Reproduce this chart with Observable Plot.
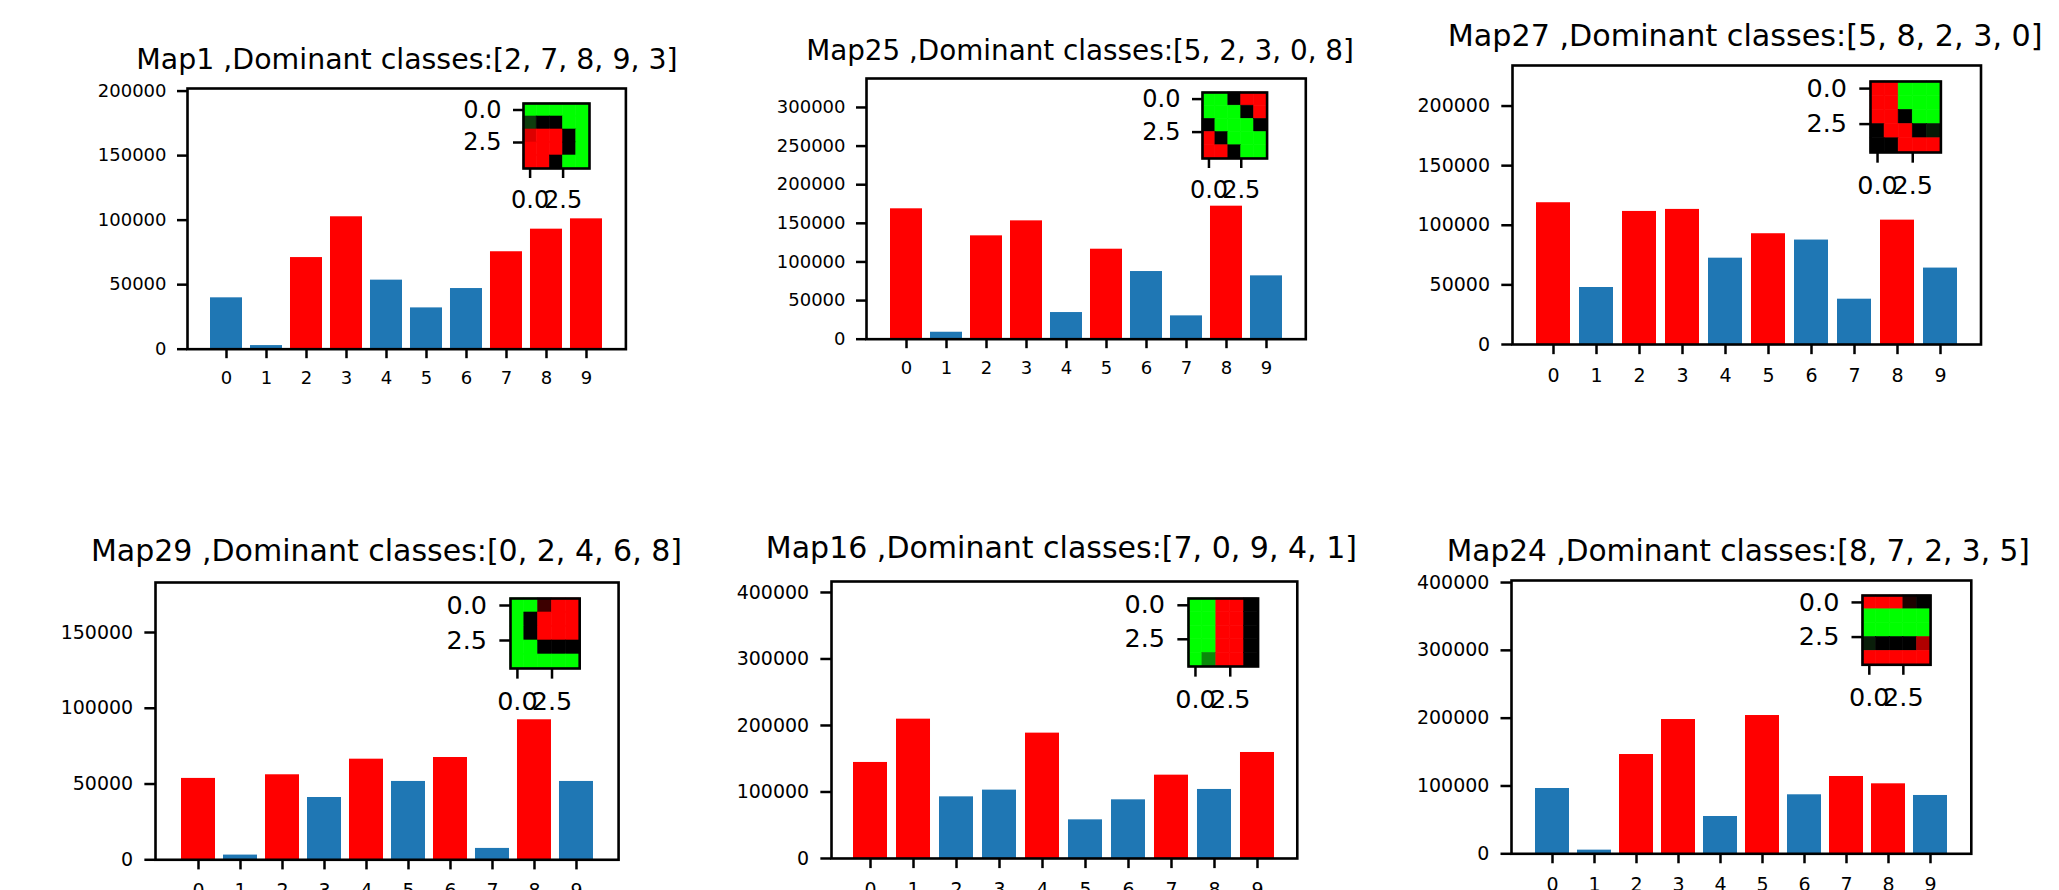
<!DOCTYPE html>
<html>
<head>
<meta charset="utf-8">
<script src="https://cdn.jsdelivr.net/npm/d3@7"></script>
<script src="https://cdn.jsdelivr.net/npm/@observablehq/plot@0.6"></script>
<style>
  html, body { margin: 0; padding: 0; background: white; }
  #root { position: relative; width: 2059px; height: 890px; overflow: hidden; background: white; font-family: "DejaVu Sans", sans-serif; }
  .ttl { position: absolute; white-space: nowrap; line-height: 1; color: #000; transform: translateX(-50%); font-family: "DejaVu Sans", sans-serif; }
  svg.plotbox { position: absolute; max-width: none !important; overflow: visible; }
</style>
</head>
<body>
<div id="root"></div>
<script>
// ---------------- DATA ----------------
const classes = [0, 1, 2, 3, 4, 5, 6, 7, 8, 9];
const mapNames = ["Map1", "Map25", "Map27", "Map29", "Map16", "Map24"];

const dom1  = [2, 7, 8, 9, 3];
const dom25 = [5, 2, 3, 0, 8];
const dom27 = [5, 8, 2, 3, 0];
const dom29 = [0, 2, 4, 6, 8];
const dom16 = [7, 0, 9, 4, 1];
const dom24 = [8, 7, 2, 3, 5];

const counts1  = [39800, 2800, 71000, 102600, 53500, 32000, 47000, 75500, 93000, 101000];
const counts25 = [168800, 9000, 133800, 153200, 34500, 116500, 87600, 30200, 172200, 82000];
const counts27 = [118900, 47800, 111600, 113300, 72400, 92900, 87600, 38000, 104300, 64100];
const counts29 = [53700, 3100, 56100, 41100, 66400, 51700, 67500, 7500, 92400, 51700];
const counts16 = [144400, 209500, 92700, 102800, 188500, 58100, 88200, 125300, 103800, 159400];
const counts24 = [96300, 5400, 146400, 198000, 55000, 203900, 87000, 114000, 103200, 86000];

const yMax = [202000, 337500, 234000, 183000, 416500, 403000];
const ticks1  = [0, 50000, 100000, 150000, 200000];
const ticks25 = [0, 50000, 100000, 150000, 200000, 250000, 300000];
const ticks27 = [0, 50000, 100000, 150000, 200000];
const ticks29 = [0, 50000, 100000, 150000];
const ticks16 = [0, 100000, 200000, 300000, 400000];
const ticks24 = [0, 100000, 200000, 300000, 400000];

// 5x5 inset images, one code per pixel
const img1  = ["GGGGG", "aKKGG", "bRRKG", "RRRKG", "RRKGG"];
const img25 = ["GGKRR", "GGGKR", "KGGGK", "RKGGG", "RRKGG"];
const img27 = ["RRGGG", "RRGGG", "RRKGG", "KRRKc", "KKRRR"];
const img29 = ["GGdRR", "GKRRR", "GKRRR", "GGKKK", "GGGGG"];
const img16 = ["GGRRK", "GGRRK", "GGRRK", "GGRRK", "GeRRK"];
const img24 = ["RRRfK", "GGGGG", "GGGGG", "hKKKj", "RRRRR"];
const insetTicks = [0, 2.5];

const pixelColor = {
  G: "#00ff00", R: "#ff0000", K: "#000000",
  a: "#0e3d0e", b: "#dd0000", c: "#061a06", d: "#3d0000",
  e: "#0a8a0a", f: "#1e0000", h: "#0a1e0a", j: "#b00000"
};
const RED = "#ff0000", BLUE = "#1f77b4";

// ---------------- LAYOUT (page pixels) ----------------
const layout = [
  {frame: [187.3, 88.3, 625.7, 349],    inset: [523.3, 102.7, 589.3, 167.7],  title: [407, 70, 28.4],    tick: 18, inTick: 24,   s: 1},
  {frame: [866.1, 78.3, 1305.4, 339],   inset: [1201.8, 91.7, 1266.4, 157.7], title: [1080, 60.5, 27.8],  tick: 18, inTick: 24,   s: 1},
  {frame: [1511.6, 65, 1980.1, 344],    inset: [1870, 80.7, 1940.4, 151.7],   title: [1745.2, 46.7, 30.2], tick: 19, inTick: 25.5, s: 1.07},
  {frame: [155.1, 581.7, 618.2, 859],   inset: [510.2, 597.7, 579.4, 667.7],  title: [386.5, 561, 30],   tick: 19, inTick: 25.5, s: 1.065},
  {frame: [831.1, 580.7, 1296.9, 857.7],inset: [1187.7, 597.7, 1257.3, 665.7],title: [1061.4, 558.3, 30], tick: 19, inTick: 25.5, s: 1.065},
  {frame: [1510.5, 580, 1970.3, 853.3], inset: [1862.3, 595, 1930.4, 664.3],  title: [1738.3, 561.7, 29.6], tick: 19, inTick: 25.5, s: 1.05}
];

// ---------------- BUILD ----------------
const doms = [dom1, dom25, dom27, dom29, dom16, dom24];
const counts = [counts1, counts25, counts27, counts29, counts16, counts24];
const tickSets = [ticks1, ticks25, ticks27, ticks29, ticks16, ticks24];
const imgs = [img1, img25, img27, img29, img16, img24];

const root = document.getElementById("root");
const fmtInt = d => String(d);
const fmt1 = d3.format(".1f");

mapNames.forEach((name, i) => {
  const lay = layout[i];
  const s = lay.s;
  const dom = doms[i];
  const rows = classes.map((c, k) => ({cls: c, count: counts[i][k]}));

  // main bar chart
  const [L, T, R, B] = lay.frame;
  const ml = 130, mr = 30, mt = 10, mb = 60;
  const main = Plot.plot({
    width: ml + (R - L) + mr,
    height: mt + (B - T) + mb,
    marginLeft: ml, marginRight: mr, marginTop: mt, marginBottom: mb,
    style: {fontFamily: "DejaVu Sans", background: "transparent", overflow: "visible"},
    x: {type: "band", domain: classes, paddingInner: 0.2, paddingOuter: 0.49, align: 0.5},
    y: {domain: [0, yMax[i]]},
    marks: [
      Plot.barY(rows, {x: "cls", y: "count", fill: d => dom.includes(d.cls) ? RED : BLUE}),
      Plot.frame({stroke: "black", strokeWidth: 2.6}),
      Plot.axisY({ticks: tickSets[i], tickFormat: fmtInt, tickSize: 10 * s, tickPadding: 11 * s,
                  fontSize: lay.tick, strokeWidth: 2.5, fill: "black", label: null}),
      Plot.axisX({tickSize: 9.5 * s, tickPadding: 13 * s, fontSize: lay.tick, strokeWidth: 2.5,
                  fill: "black", label: null})
    ]
  });
  main.classList.add("plotbox");
  main.style.left = (L - ml) + "px";
  main.style.top = (T - mt) + "px";
  root.appendChild(main);

  // inset image
  const cells = [];
  imgs[i].forEach((row, r) => row.split("").forEach((code, c) => cells.push({r, c, code})));
  const [iL, iT, iR, iB] = lay.inset;
  const iml = 80, imr = 20, imt = 20, imb = 60;
  const inset = Plot.plot({
    width: iml + (iR - iL) + imr,
    height: imt + (iB - iT) + imb,
    marginLeft: iml, marginRight: imr, marginTop: imt, marginBottom: imb,
    style: {fontFamily: "DejaVu Sans", background: "transparent", overflow: "visible"},
    x: {domain: [-0.5, 4.5]},
    y: {domain: [-0.5, 4.5], reverse: true},
    marks: [
      Plot.rect(cells, {
        x1: d => d.c - 0.5, x2: d => d.c + 0.5,
        y1: d => d.r - 0.5, y2: d => d.r + 0.5,
        fill: d => pixelColor[d.code], stroke: d => pixelColor[d.code], strokeWidth: 0.6
      }),
      Plot.frame({stroke: "black", strokeWidth: 2.6}),
      Plot.axisY({ticks: insetTicks, tickFormat: fmt1, tickSize: 10 * s, tickPadding: 12 * s,
                  fontSize: lay.inTick, strokeWidth: 2.5, fill: "black", label: null}),
      Plot.axisX({ticks: insetTicks, tickFormat: fmt1, tickSize: 10 * s, tickPadding: 12 * s,
                  fontSize: lay.inTick, strokeWidth: 2.5, fill: "black", label: null})
    ]
  });
  inset.classList.add("plotbox");
  inset.style.left = (iL - iml) + "px";
  inset.style.top = (iT - imt) + "px";
  root.appendChild(inset);

  // title
  const [cx, base, fs] = lay.title;
  const t = document.createElement("div");
  t.className = "ttl";
  t.style.fontSize = fs + "px";
  t.style.left = cx + "px";
  t.style.top = (base - 0.846 * fs) + "px";
  t.textContent = `${name} ,Dominant classes:[${dom.join(", ")}]`;
  root.appendChild(t);
});
</script>
</body>
</html>
